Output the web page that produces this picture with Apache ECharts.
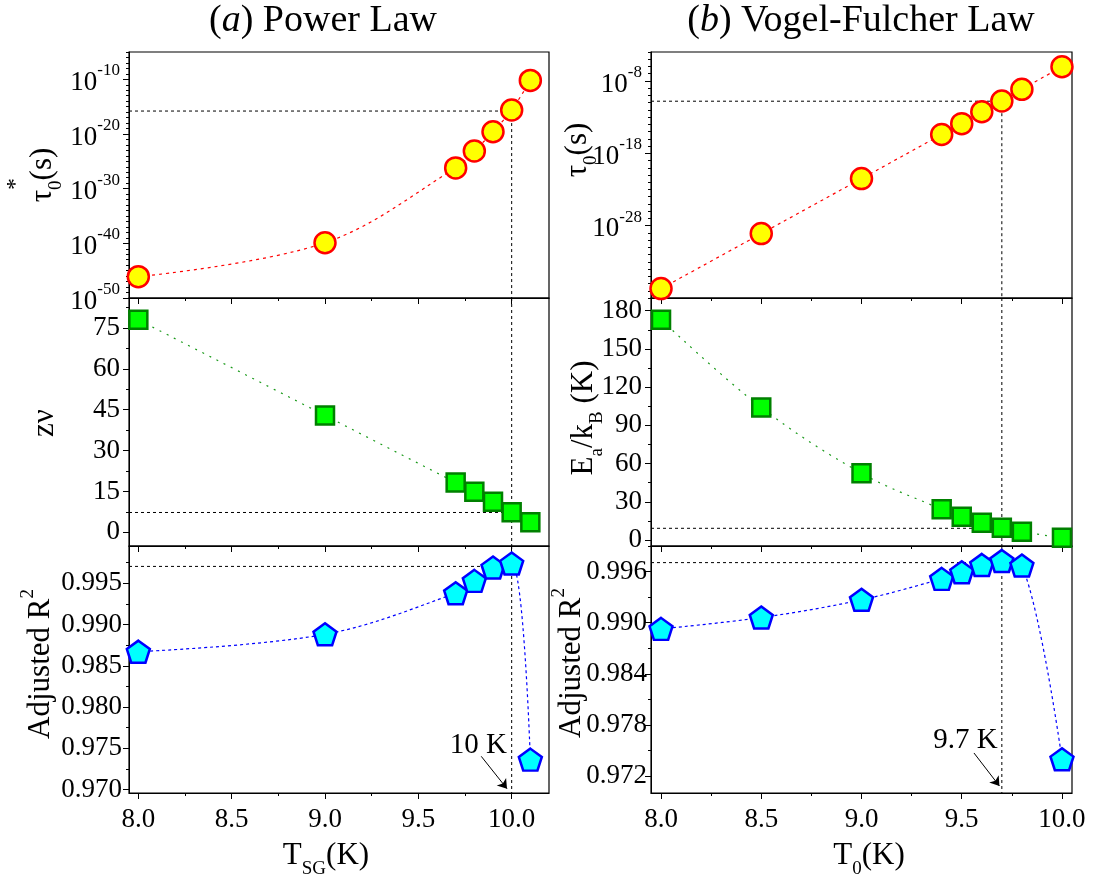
<!DOCTYPE html>
<html><head><meta charset="utf-8">
<script src="https://cdn.jsdelivr.net/npm/echarts@6/dist/echarts.min.js"></script>
<style>html,body{margin:0;padding:0;background:#fff}#c{width:1093px;height:882px}</style>
</head><body><div id="c"></div>
<script>
// ---------- data ----------
// (a) Power law
const TA = [8.0, 9.0, 9.7, 9.8, 9.9, 10.0, 10.1];
const tauStarExp = [-46.1, -39.9, -26.2, -23.1, -19.6, -15.6, -10.2];   // log10(tau0*)
const zNu = [78.0, 42.9, 18.3, 14.9, 11.2, 7.4, 3.7];
const adjR2A = [0.98671, 0.98881, 0.99379, 0.99528, 0.99690, 0.99739, 0.97364];
const TcA = 10.0;
const refLevelsA = [-15.8, 7.3, 0.99703];
// (b) Vogel-Fulcher law
const TB = [8.0, 8.5, 9.0, 9.4, 9.5, 9.6, 9.7, 9.8, 10.0];
const tau0Exp = [-36.7, -29.1, -21.5, -15.4, -13.9, -12.25, -10.77, -9.16, -6.03]; // log10(tau0)
const EaKb = [173, 104, 52.4, 24.1, 18.3, 13.6, 9.7, 6.5, 1.8];
const adjR2B = [0.98927, 0.99060, 0.99268, 0.99514, 0.99592, 0.99678, 0.99725, 0.99670, 0.97397];
const TcB = 9.7;
const refLevelsB = [-10.8, 9.2, 0.99705];
// tick labels
const xTickLabels = [8.0, 8.5, 9.0, 9.5, 10.0];
const tauStarTicks = [-50, -40, -30, -20, -10];
const zNuTicks = [0, 15, 30, 45, 60, 75];
const r2ATicks = [0.970, 0.975, 0.980, 0.985, 0.990, 0.995];
const tau0Ticks = [-28, -18, -8];
const EaTicks = [0, 30, 60, 90, 120, 150, 180];
const r2BTicks = [0.972, 0.978, 0.984, 0.990, 0.996];

// ---------- helpers ----------
const FONT = '"Liberation Serif","Times New Roman",serif';
function steps(a, b, s) { const o = []; const n = Math.round((b - a) / s); for (let i = 0; i <= n; i++) o.push(+(a + i * s).toFixed(6)); return o; }
function minorsOf(ticks, lo, hi) {
  const s = (ticks[1] - ticks[0]) / 2; const o = [];
  const start = ticks[0] - s * Math.floor((ticks[0] - lo) / s + 1e-9);
  for (let v = start; v <= hi + 1e-9; v += s) { const r = +v.toFixed(6); if (r >= lo - 1e-9 && !ticks.some(t => Math.abs(t - r) < 1e-9)) o.push(r); }
  return o;
}
const pentagon = 'path://M0,-1 L0.951,-0.309 L0.588,0.809 L-0.588,0.809 L-0.951,-0.309 Z';
const styles = {
  circle: { symbol: 'circle', symbolSize: 21, itemStyle: { color: '#ffff00', borderColor: '#ff0000', borderWidth: 2.5 }, lineStyle: { color: '#ff0000', width: 1.2, type: [3, 4] } },
  square: { symbol: 'rect', symbolSize: 18, itemStyle: { color: '#00ff00', borderColor: '#008000', borderWidth: 2.5 }, lineStyle: { color: '#1a9a1a', width: 1.2, type: [2, 6] } },
  pent: { symbol: pentagon, symbolSize: [23, 22], itemStyle: { color: '#00ffff', borderColor: '#0000ff', borderWidth: 2.5 }, lineStyle: { color: '#0000ff', width: 1.2, type: [3, 3] } }
};

const L = { left: 129, width: 420 }, R = { left: 651, width: 421 };
const rows = [{ top: 52, height: 246 }, { top: 298, height: 248 }, { top: 546, height: 247 }];

const panels = [
  { g: L, r: 0, x: [7.95, 10.2], y: [-50, -5], T: TA, v: tauStarExp, yTicks: tauStarTicks, yMinor: steps(-50, -5, 1).filter(v => v % 10 !== 0), log: true, st: 'circle', Tc: TcA, ref: refLevelsA[0], first: true },
  { g: L, r: 1, x: [7.95, 10.2], y: [-5, 86], T: TA, v: zNu, yTicks: zNuTicks, log: false, st: 'square', Tc: TcA, ref: refLevelsA[1], fmt: v => String(v) },
  { g: L, r: 2, x: [7.95, 10.2], y: [0.9696, 0.9995], T: TA, v: adjR2A, yTicks: r2ATicks, log: false, st: 'pent', Tc: TcA, ref: refLevelsA[2], fmt: v => v.toFixed(3), bottom: true, labMargin: 7 },
  { g: R, r: 0, x: [7.95, 10.05], y: [-38, -4], T: TB, v: tau0Exp, yTicks: tau0Ticks, yMinor: steps(-38, -4, 1).filter(v => !tau0Ticks.includes(v)), log: true, st: 'circle', Tc: TcB, ref: refLevelsB[0], first: true },
  { g: R, r: 1, x: [7.95, 10.05], y: [-4.7, 190], T: TB, v: EaKb, yTicks: EaTicks, log: false, st: 'square', Tc: TcB, ref: refLevelsB[1], fmt: v => String(v) },
  { g: R, r: 2, x: [7.95, 10.05], y: [0.970, 0.999], T: TB, v: adjR2B, yTicks: r2BTicks, log: false, st: 'pent', Tc: TcB, ref: refLevelsB[2], fmt: v => v.toFixed(3), bottom: true, labMargin: 4 }
];

const grid = [], xAxis = [], yAxis = [], series = [];
const tickLine = { color: '#000', width: 1 };
panels.forEach((p, gi) => {
  grid.push({ left: p.g.left, width: p.g.width, top: rows[p.r].top, height: rows[p.r].height, show: true, borderColor: '#000', borderWidth: 1.2, backgroundColor: 'transparent' });
  const xMinor = minorsOf(xTickLabels, p.x[0], p.x[1]);
  xAxis.push({ type: 'value', gridIndex: gi, min: p.x[0], max: p.x[1], position: 'bottom',
    axisLine: { show: true, onZero: false, lineStyle: tickLine },
    axisTick: { show: true, inside: false, length: 6, customValues: xTickLabels, lineStyle: tickLine },
    axisLabel: { show: !!p.bottom, customValues: xTickLabels, margin: 13, formatter: v => v.toFixed(1), color: '#000', fontFamily: FONT, fontSize: 27 },
    splitLine: { show: false } });
  xAxis.push({ type: 'value', gridIndex: gi, min: p.x[0], max: p.x[1], position: 'bottom',
    axisLine: { show: false, onZero: false }, axisTick: { show: true, length: 3, customValues: xMinor, lineStyle: tickLine },
    axisLabel: { show: false }, splitLine: { show: false } });
  const yMinor = p.yMinor || minorsOf(p.yTicks, p.y[0], p.y[1]);
  const yLab = p.log
    ? { show: true, customValues: p.yTicks, margin: 9, formatter: v => '{b|10}{s|' + Math.round(v) + '}', color: '#000', fontFamily: FONT,
        rich: { b: { fontSize: 27, fontFamily: FONT, color: '#000', lineHeight: 34, verticalAlign: 'bottom' }, s: { fontSize: 17, fontFamily: FONT, color: '#000', lineHeight: 17, verticalAlign: 'top' } } }
    : { show: true, customValues: p.yTicks, margin: p.labMargin || 9, formatter: p.fmt, color: '#000', fontFamily: FONT, fontSize: 27 };
  yAxis.push({ type: 'value', gridIndex: gi, min: p.y[0], max: p.y[1], position: 'left',
    axisLine: { show: true, onZero: false, lineStyle: tickLine },
    axisTick: { show: true, inside: false, length: 6, customValues: p.yTicks, lineStyle: tickLine },
    axisLabel: yLab, splitLine: { show: false } });
  yAxis.push({ type: 'value', gridIndex: gi, min: p.y[0], max: p.y[1], position: 'left',
    axisLine: { show: false, onZero: false }, axisTick: { show: true, length: 3, customValues: yMinor, lineStyle: tickLine },
    axisLabel: { show: false }, splitLine: { show: false } });
  const xi = 2 * gi, yi = 2 * gi;
  const refStyle = { color: '#000', width: 1, type: [3, 3] };
  series.push({ type: 'line', xAxisIndex: xi, yAxisIndex: yi, silent: true, symbol: 'none', animation: false, z: 1,
    lineStyle: refStyle, data: [[p.x[0], p.ref], [p.Tc, p.ref]] });
  series.push({ type: 'line', xAxisIndex: xi, yAxisIndex: yi, silent: true, symbol: 'none', animation: false, z: 1,
    lineStyle: refStyle, data: [[p.Tc, p.first ? p.ref : p.y[1]], [p.Tc, p.y[0]]] });
  const st = styles[p.st];
  series.push({ type: 'line', xAxisIndex: xi, yAxisIndex: yi, smooth: 0.35, animation: false, z: 3,
    symbol: st.symbol, symbolSize: st.symbolSize, itemStyle: st.itemStyle, lineStyle: st.lineStyle,
    data: p.T.map((t, k) => [t, p.v[k]]) });
});

// annotation arrows + labels in the bottom panels
function annot(gi, txt, from, to, at) {
  series.push({ type: 'line', xAxisIndex: 2 * gi, yAxisIndex: 2 * gi, data: [], animation: false, silent: true,
    markLine: { silent: true, symbol: ['none', 'arrow'], symbolSize: 9, animation: false,
      lineStyle: { color: '#000', type: 'solid', width: 1 }, label: { show: false },
      data: [[{ coord: from }, { coord: to }]] },
    markPoint: { silent: true, symbol: 'circle', symbolSize: 0, animation: false,
      label: { show: true, position: 'inside', formatter: txt, color: '#000', fontFamily: FONT, fontSize: 29 },
      data: [{ coord: at }] } });
}
annot(2, '10 K', [9.837, 0.97404], [9.975, 0.97012], [9.822, 0.97534]);
annot(5, '9.7 K', [9.561, 0.97470], [9.688, 0.97082], [9.518, 0.97623]);

// titles & axis titles
const base = { fontFamily: FONT, fill: '#000' };
function txt(x, y, text, size, rich, rot) {
  return { type: 'text', x: x, y: y, rotation: rot ? Math.PI / 2 : 0, silent: true,
    style: Object.assign({}, base, { text: text, fontSize: size, align: 'center', verticalAlign: 'middle', rich: rich }) };
}
const rsub = sz => ({
  t: { fontSize: sz, fontFamily: FONT, fill: '#000', lineHeight: sz + 14, verticalAlign: 'middle' },
  i: { fontSize: sz, fontFamily: FONT, fontStyle: 'italic', fill: '#000', lineHeight: sz + 14, verticalAlign: 'middle' },
  sub: { fontSize: Math.round(sz * 0.62), fontFamily: FONT, fill: '#000', lineHeight: Math.round(sz * 0.62), verticalAlign: 'bottom' },
  sup: { fontSize: Math.round(sz * 0.62), fontFamily: FONT, fill: '#000', lineHeight: Math.round(sz * 0.62), verticalAlign: 'top' }
});
const graphic = [
  txt(323, 21, '{t|(}{i|a}{t|) Power Law}', 38, rsub(38)),
  txt(861, 21, '{t|(}{i|b}{t|) Vogel-Fulcher Law}', 38, rsub(38)),
  txt(43, 175, '{t|τ}{sub|0}{t|(s)}', 31, rsub(31), true),
  txt(16, 184, '*', 24, null, true),
  txt(45, 423, '{t|zν}', 31, rsub(31), true),
  txt(41, 664, '{t|Adjusted R}{sup|2}', 31, rsub(31), true),
  txt(578, 150, '{t|τ}{sub|0}{t|(s)}', 31, rsub(31), true),
  txt(584, 418, '{t|E}{sub|a}{t|/k}{sub|B}{t| (K)}', 31, rsub(31), true),
  txt(572, 663, '{t|Adjusted R}{sup|2}', 31, rsub(31), true),
  txt(326, 856, '{t|T}{sub|SG}{t|(K)}', 31, rsub(31)),
  txt(869, 856, '{t|T}{sub|0}{t|(K)}', 31, rsub(31))
];

const chart = echarts.init(document.getElementById('c'), null, { renderer: 'canvas' });
chart.setOption({ animation: false, backgroundColor: '#fff', grid, xAxis, yAxis, series, graphic });
</script></body></html>
